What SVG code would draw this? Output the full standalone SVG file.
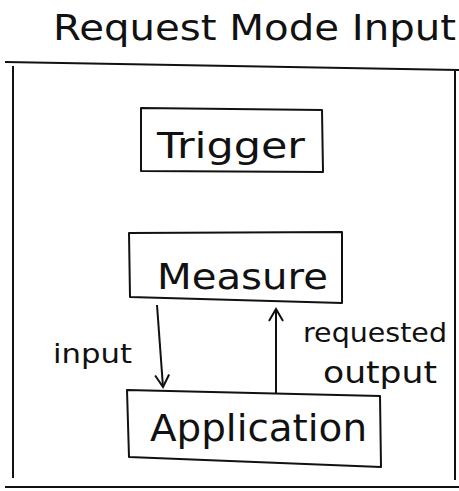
<svg xmlns="http://www.w3.org/2000/svg" width="459" height="491" viewBox="0 0 459 491">
<style>
.box{fill:none;stroke:#111;stroke-width:2;stroke-linejoin:round}
.frame{fill:none;stroke:#111;stroke-width:2}
.lbl{font-family:"DejaVu Sans","Liberation Sans",sans-serif;fill:#111}
.conn{stroke:#111;stroke-width:2;fill:none}
</style>
<defs>
<marker id="arr" viewBox="0 0 16 16" refX="14" refY="8" markerWidth="16" markerHeight="16" markerUnits="userSpaceOnUse" orient="auto">
<path d="M2,1 L14,8 L2,15" fill="none" stroke="#111" stroke-width="2"/>
</marker>
</defs>
<rect width="459" height="491" fill="#fff"/>
<text class="lbl" x="53" y="40" font-size="35" textLength="403" lengthAdjust="spacingAndGlyphs">Request Mode Input</text>
<g id="frame">
<path class="frame" d="M5,62 L459,70 M13,66 L13,478 M455,70 L455,480 M5,487 L459,487"/>
</g>
<g id="trigger">
<path class="box" d="M141,108 L322,110 L323,172 L141,171 Z"/>
<text class="lbl" x="157" y="158" font-size="36" textLength="148" lengthAdjust="spacingAndGlyphs">Trigger</text>
</g>
<g id="measure">
<path class="box" d="M129,233 L342,232 L342,303 L130,297 Z"/>
<text class="lbl" x="157" y="289" font-size="36" textLength="171" lengthAdjust="spacingAndGlyphs">Measure</text>
</g>
<g id="application">
<path class="box" d="M127,390 L380,396 L381,467 L129,457 Z"/>
<text class="lbl" x="150" y="441" font-size="38" textLength="217" lengthAdjust="spacingAndGlyphs">Application</text>
</g>
<g id="connectors">
<line class="conn" x1="157" y1="305" x2="163" y2="387" marker-end="url(#arr)"/>
<line class="conn" x1="276" y1="393" x2="276" y2="309" marker-end="url(#arr)"/>
<text class="lbl" x="53" y="363" font-size="27" textLength="79" lengthAdjust="spacingAndGlyphs">input</text>
<text class="lbl" x="303" y="342" font-size="27" textLength="144" lengthAdjust="spacingAndGlyphs">requested</text>
<text class="lbl" x="323" y="383" font-size="30" textLength="114" lengthAdjust="spacingAndGlyphs">output</text>
</g>
</svg>
